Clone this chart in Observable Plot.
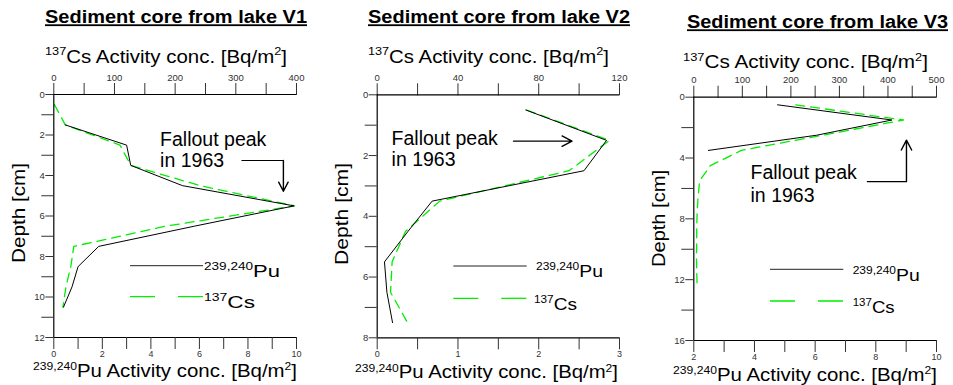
<!DOCTYPE html>
<html>
<head>
<meta charset="utf-8">
<script src="https://cdn.jsdelivr.net/npm/d3@7"></script>
<script src="https://cdn.jsdelivr.net/npm/@observablehq/plot@0.6"></script>
<style>
  body { margin: 0; background: #fff; }
  #chart { position: relative; width: 953px; height: 385px; overflow: hidden; font-family: "Liberation Sans", Arial, sans-serif; }
  #chart svg { position: absolute; left: 0; top: 0; }
</style>
</head>
<body>
<div id="chart"></div>
<script>
// ================= DATA =================
// Lake V1
const v1PuDepth = [1.5, 2.5, 3.5, 4.5, 5.5, 6.5, 7.5, 8.5, 9.5, 10.5];
const v1Pu      = [0.47, 3.0, 3.17, 5.3, 9.9, 5.8, 1.85, 1.0, 0.75, 0.4];
const v1CsDepth = [0.5, 1.5, 2.5, 3.5, 4.5, 5.5, 6.5, 7.5, 8.5, 9.5, 10.5];
const v1Cs      = [1, 19, 109, 127, 241, 397, 185, 33, 28, 20, 15];
// Lake V2
const v2PuDepth = [0.5, 1.5, 2.5, 3.5, 4.5, 5.5, 6.5, 7.5];
const v2Pu      = [1.84, 2.84, 2.56, 0.68, 0.38, 0.09, 0.12, 0.19];
const v2CsDepth = [0.5, 1.5, 2.5, 3.5, 4.5, 5.5, 6.5, 7.5];
const v2Cs      = [74, 115, 95, 31, 14, 7.4, 6.6, 15];
// Lake V3
const v3PuDepth = [0.5, 1.5, 2.5, 3.5];
const v3Pu      = [4.76, 8.53, 6.05, 2.48];
const v3CsDepth = [0.5, 1.5, 2.5, 3.5, 4.5, 5.5, 6.5, 7.5, 8.5, 9.5, 10.5, 11.5, 12.5];
const v3Cs      = [210, 432, 265, 98, 34, 12, 9, 7, 6, 6, 5.5, 6, 7];

// Tick values and labels
const v1PuTicks = [0,1,2,3,4,5,6,7,8,9,10],        v1PuLabels = [0,2,4,6,8,10];
const v1CsTicks = [0,50,100,150,200,250,300,350,400], v1CsLabels = [0,100,200,300,400];
const v1DepthTicks = [0,1,2,3,4,5,6,7,8,9,10,11,12], v1DepthLabels = [0,2,4,6,8,10,12];
const v2PuTicks = [0,0.5,1,1.5,2,2.5,3],             v2PuLabels = [0,1,2,3];
const v2CsTicks = [0,20,40,60,80,100,120],           v2CsLabels = [0,40,80,120];
const v2DepthTicks = [0,1,2,3,4,5,6,7,8],            v2DepthLabels = [0,2,4,6,8];
const v3PuTicks = [2,3,4,5,6,7,8,9,10],              v3PuLabels = [2,4,6,8,10];
const v3CsTicks = [0,50,100,150,200,250,300,350,400,450,500], v3CsLabels = [0,100,200,300,400,500];
const v3DepthTicks = [0,2,4,6,8,10,12,14,16],        v3DepthLabels = [0,4,8,12,16];

// Texts
const titles = ["Sediment core from lake V1", "Sediment core from lake V2", "Sediment core from lake V3"];
const annotationLines = ["Fallout peak", "in 1963"];

// Annotation anchors (in Pu / depth data units)
const v1Anno = {text: [4.38, 2.22, 3.29], path: [[7.75, 3.26], [9.46, 3.26], [9.46, 4.78]]};
const v2Anno = {text: [0.178, 1.434, 2.148], path: [[1.688, 1.526], [2.412, 1.526]]};
const v3Anno = {text: [3.87, 4.97, 6.46], path: [[7.72, 5.55], [9.01, 5.55], [9.01, 2.82]]};

// ================= LAYOUT =================
const W = 953, H = 385;
const FONT = '"Liberation Sans", Arial, sans-serif';
const GREEN = "#00ee00";
const panels = [
  {frame: {l: 53.3, r: 296, t: 94, b: 337}, puDomain: [0, 10], csDomain: [0, 400], depthDomain: [0, 12],
   pu: [v1PuDepth, v1Pu], cs: [v1CsDepth, v1Cs], puT: [v1PuTicks, v1PuLabels], csT: [v1CsTicks, v1CsLabels],
   dT: [v1DepthTicks, v1DepthLabels], anno: v1Anno,
   title: {x: 45, y: 23.3, w: 262}, top: {x: 45, y: 63, w: 242}, bottom: {x: 33, y: 377, w: 264},
   depth: {x: 25, y: 213, w: 100},
   legPu: {x1: 130, x2: 203, y: 265.7, tx: 204, ty: 276.7, w: 76},
   legCs: {x1: 130, x2: 203, y: 296.7, tx: 204, ty: 308.3, w: 51}},
  {frame: {l: 376.7, r: 619, t: 94.3, b: 337.3}, puDomain: [0, 3], csDomain: [0, 120], depthDomain: [0, 8],
   pu: [v2PuDepth, v2Pu], cs: [v2CsDepth, v2Cs], puT: [v2PuTicks, v2PuLabels], csT: [v2CsTicks, v2CsLabels],
   dT: [v2DepthTicks, v2DepthLabels], anno: v2Anno,
   title: {x: 368, y: 23.3, w: 262}, top: {x: 368, y: 63, w: 241}, bottom: {x: 355, y: 378.3, w: 263},
   depth: {x: 348.3, y: 214, w: 102},
   legPu: {x1: 453.3, x2: 526.7, y: 266, tx: 536, ty: 276.7, w: 67},
   legCs: {x1: 453.3, x2: 526.7, y: 298.3, tx: 534, ty: 310, w: 43}},
  {frame: {l: 693.3, r: 936, t: 96.7, b: 340}, puDomain: [2, 10], csDomain: [0, 500], depthDomain: [0, 16],
   pu: [v3PuDepth, v3Pu], cs: [v3CsDepth, v3Cs], puT: [v3PuTicks, v3PuLabels], csT: [v3CsTicks, v3CsLabels],
   dT: [v3DepthTicks, v3DepthLabels], anno: v3Anno,
   title: {x: 687, y: 28.3, w: 261}, top: {x: 683, y: 68.3, w: 245}, bottom: {x: 673, y: 380.5, w: 264},
   depth: {x: 665, y: 218.5, w: 97},
   legPu: {x1: 770, x2: 843.3, y: 269.3, tx: 852.7, ty: 280.7, w: 67},
   legCs: {x1: 770, x2: 843.3, y: 301, tx: 852.7, ty: 313.3, w: 42}}
];

const chart = document.getElementById("chart");
const rows = (depths, vals) => depths.map((d, i) => ({d, v: vals[i]}));
const fmtOnly = labels => (v => labels.includes(v) ? String(v) : "");

function basePlot(p, xDomain, marks, yAxis) {
  return Plot.plot({
    width: W, height: H,
    marginLeft: p.frame.l, marginRight: W - p.frame.r,
    marginTop: p.frame.t, marginBottom: H - p.frame.b,
    x: {domain: xDomain, label: null},
    y: {domain: p.depthDomain, reverse: true, label: null, axis: yAxis},
    style: {background: "transparent", overflow: "visible", fontFamily: FONT, color: "#222"},
    marks
  });
}

panels.forEach(p => {
  // 137Cs layer (top axis, dashed green)
  const csMarks = [
    Plot.axisX({anchor: "top", ticks: p.csT[0], tickFormat: fmtOnly(p.csT[1]), tickSize: 12, tickPadding: 2,
                fontSize: 9.5, label: null, color: "#333"}),
    Plot.line(rows(p.cs[0], p.cs[1]), {x: "v", y: "d", stroke: GREEN, strokeWidth: 1.3, strokeDasharray: "9,6"})
  ];
  chart.appendChild(basePlot(p, p.csDomain, csMarks, null));

  // 239,240Pu layer (bottom + left axes, black line, annotation)
  const a = p.anno;
  const path = a.path.map(([x, d]) => ({x, d}));
  const last = path.length - 1;
  const puMarks = [
    Plot.ruleY(p.depthDomain, {stroke: "black", strokeWidth: 1.2}),
    Plot.ruleX([p.puDomain[0]], {stroke: "black", strokeWidth: 1.2}),
    Plot.axisX({anchor: "bottom", ticks: p.puT[0], tickFormat: fmtOnly(p.puT[1]), tickSize: 12, tickPadding: 1,
                fontSize: 9, label: null, color: "#333"}),
    Plot.axisY({anchor: "left", ticks: p.dT[1], tickSize: 8, tickPadding: 1, fontSize: 9.5, label: null, color: "#333"}),
    Plot.axisY({anchor: "left", ticks: p.dT[0].filter(v => !p.dT[1].includes(v)), tickFormat: () => "",
                tickSize: 12, label: null, color: "#333"}),
    Plot.line(rows(p.pu[0], p.pu[1]), {x: "v", y: "d", stroke: "black", strokeWidth: 1}),
    Plot.text(annotationLines.map((t, i) => ({t, x: a.text[0], d: a.text[i + 1]})),
              {x: "x", y: "d", text: "t", textAnchor: "start", fontSize: 19.5, fill: "black"}),
    ...(last > 1 ? [Plot.line(path.slice(0, last), {x: "x", y: "d", stroke: "black", strokeWidth: 1.1})] : []),
    Plot.arrow([{p1: path[last - 1], p2: path[last]}],
               {x1: o => o.p1.x, y1: o => o.p1.d, x2: o => o.p2.x, y2: o => o.p2.d,
                stroke: "black", strokeWidth: 1.4, headLength: 12, headAngle: 55})
  ];
  chart.appendChild(basePlot(p, p.puDomain, puMarks, undefined));
});

// ---- Overlay: titles, axis titles, legends (texts with superscripts) ----
const svg = d3.select(chart).append("svg").attr("width", W).attr("height", H)
  .style("overflow", "visible").attr("font-family", FONT);

function rich(parts, x, y, size, supSize, width, extra = {}, raise = 0.42) {
  const t = svg.append("text").attr("x", x).attr("y", y).attr("font-size", size).attr("fill", "black");
  Object.entries(extra).forEach(([k, v]) => t.attr(k, v));
  let cur = 0;
  parts.forEach(([s, isSup]) => {
    const shift = isSup ? -size * raise : 0;
    t.append("tspan").attr("dy", shift - cur).attr("font-size", isSup ? supSize : size).text(s);
    cur = shift;
  });
  if (width) t.attr("textLength", width).attr("lengthAdjust", "spacingAndGlyphs");
  return t;
}

panels.forEach((p, i) => {
  rich([[titles[i], false]], p.title.x, p.title.y, 18, 12, p.title.w,
       {"font-weight": "bold", "text-decoration": "underline"});
  rich([["137", true], ["Cs Activity conc. [Bq/m", false], ["2", true], ["]", false]],
       p.top.x, p.top.y, 18.5, 11.5, p.top.w);
  rich([["239,240", true], ["Pu Activity conc. [Bq/m", false], ["2", true], ["]", false]],
       p.bottom.x, p.bottom.y, 18.5, 11, p.bottom.w, {}, 0.36);
  rich([["Depth [cm]", false]], p.depth.x, p.depth.y, 18.5, 12, p.depth.w,
       {"text-anchor": "middle", transform: `rotate(-90 ${p.depth.x} ${p.depth.y})`});
  // legend
  svg.append("line").attr("x1", p.legPu.x1).attr("x2", p.legPu.x2).attr("y1", p.legPu.y).attr("y2", p.legPu.y)
    .attr("stroke", "#222").attr("stroke-width", 1);
  rich([["239,240", true], ["Pu", false]], p.legPu.tx, p.legPu.ty, 17, 10.5, p.legPu.w);
  svg.append("line").attr("x1", p.legCs.x1).attr("x2", p.legCs.x2).attr("y1", p.legCs.y).attr("y2", p.legCs.y)
    .attr("stroke", GREEN).attr("stroke-width", 1.3).attr("stroke-dasharray", "25,23");
  rich([["137", true], ["Cs", false]], p.legCs.tx, p.legCs.ty, 17, 10.5, p.legCs.w);
});
</script>
</body>
</html>
